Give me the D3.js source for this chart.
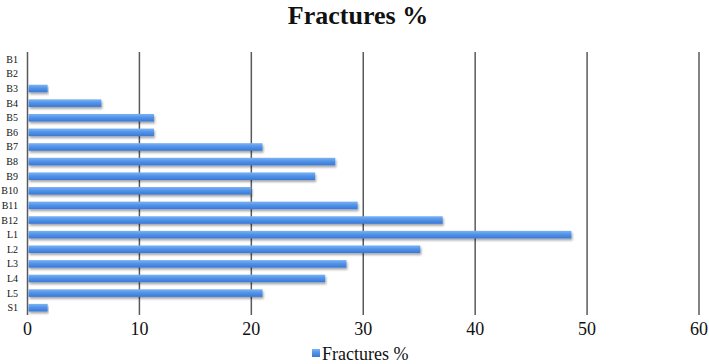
<!DOCTYPE html>
<html lang="en">
<head>
<meta charset="UTF-8">
<title>Fractures %</title>
<script src="https://cdn.jsdelivr.net/npm/d3@7"></script>
<style>
    body { margin: 0; padding: 0; background: #fff; }
    svg { display: block; }
    text { font-family: 'Liberation Serif', 'DejaVu Serif', serif; fill: #111; }
</style>
</head>
<body>
<svg id="chart" width="709" height="364"></svg>
<script>
    const categories = ["B1", "B2", "B3", "B4", "B5", "B6", "B7", "B8", "B9", "B10", "B11", "B12", "L1", "L2", "L3", "L4", "L5", "S1"];
    const fractures = [0, 0, 1.8, 6.6, 11.3, 11.3, 21, 27.5, 25.7, 20, 29.5, 37.1, 48.6, 35.1, 28.5, 26.6, 21, 1.8];
    const xTicks = [0, 10, 20, 30, 40, 50, 60];
    const seriesName = "Fractures %";

    const svg = d3.select("#chart");

    const x = d3.scaleLinear().domain([0, 60]).range([27.5, 699]);
    const y = d3.scaleBand().domain(categories).range([52, 315]).paddingInner(0.48).paddingOuter(0.24);

    const defs = svg.append("defs");
    const grad = defs.append("linearGradient")
        .attr("id", "barGrad").attr("x1", 0).attr("y1", 0).attr("x2", 0).attr("y2", 1);
    grad.append("stop").attr("offset", "0%").attr("stop-color", "#7db2f2");
    grad.append("stop").attr("offset", "45%").attr("stop-color", "#5294ea");
    grad.append("stop").attr("offset", "100%").attr("stop-color", "#3a78d4");

    const shadow = defs.append("filter").attr("id", "shadow")
        .attr("x", "-5%").attr("y", "-50%").attr("width", "110%").attr("height", "250%");
    shadow.append("feDropShadow")
        .attr("dx", 1).attr("dy", 2).attr("stdDeviation", 0.9)
        .attr("flood-color", "#000").attr("flood-opacity", 0.35);

    // title
    svg.append("text")
        .attr("x", 358).attr("y", 24)
        .attr("text-anchor", "middle")
        .attr("font-size", 26)
        .attr("font-weight", "bold")
        .text("Fractures %");

    // vertical grid lines
    svg.append("g")
        .selectAll("line")
        .data(xTicks)
        .join("line")
        .attr("x1", d => x(d)).attr("x2", d => x(d))
        .attr("y1", 52).attr("y2", 315)
        .attr("stroke", "#5a5a5a")
        .attr("stroke-width", 1.5);

    // x tick labels
    svg.append("g")
        .selectAll("text")
        .data(xTicks)
        .join("text")
        .attr("x", d => x(d))
        .attr("y", 335)
        .attr("text-anchor", "middle")
        .attr("font-size", 18)
        .text(d => d);

    // category labels
    svg.append("g")
        .selectAll("text")
        .data(categories)
        .join("text")
        .attr("x", 18)
        .attr("y", d => y(d) + y.bandwidth() / 2 + 3.5)
        .attr("text-anchor", "end")
        .attr("font-size", 10)
        .text(d => d);

    // bars
    svg.append("g")
        .selectAll("rect")
        .data(categories.map((c, i) => ({ cat: c, val: fractures[i] })).filter(d => d.val > 0))
        .join("rect")
        .attr("x", x(0) + 1)
        .attr("y", d => y(d.cat))
        .attr("width", d => x(d.val) - x(0) - 1)
        .attr("height", y.bandwidth())
        .attr("fill", "url(#barGrad)")
        .attr("filter", "url(#shadow)");

    // legend
    const legend = svg.append("g");
    legend.append("rect")
        .attr("x", 312).attr("y", 349).attr("width", 8).attr("height", 8)
        .attr("fill", "url(#barGrad)");
    legend.append("text")
        .attr("x", 322).attr("y", 360)
        .attr("font-size", 18)
        .text(seriesName);
</script>
</body>
</html>
